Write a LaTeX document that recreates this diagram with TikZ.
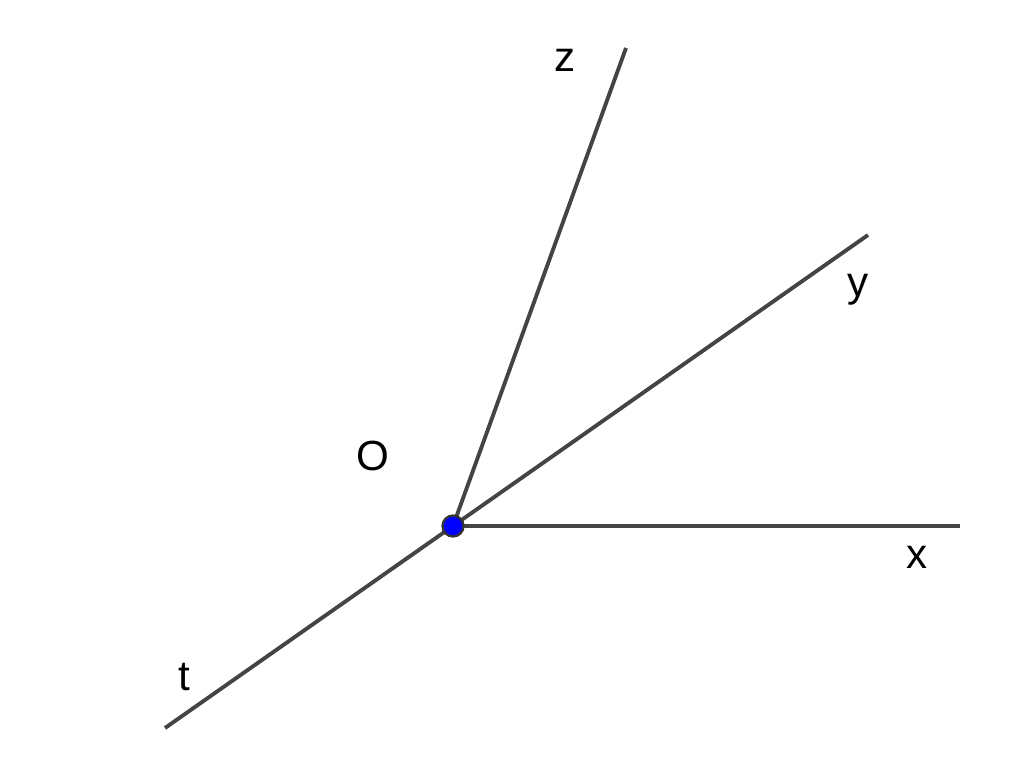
\documentclass[tikz,border=0pt]{standalone}
\usepackage{fontspec}
\setmainfont{Liberation Sans}
\definecolor{raygray}{HTML}{444444}

\begin{document}
\begin{tikzpicture}[x=0.02cm,y=-0.02cm,
    ray/.style={raygray,line width=2.2pt},
    lbl/.style={inner sep=0pt,font=\fontsize{24}{24}\selectfont}]
    \useasboundingbox (0,0) rectangle (1024,779);
    \coordinate (O) at (453,526);
    \coordinate (X) at (960,526);
    \coordinate (Y) at (868,235);
    \coordinate (Z) at (626,48);
    \coordinate (T) at (165,728);
    \foreach \e in {X,Y,Z,T}
        \draw[ray] (O) -- (\e);
    \fill[blue,draw=black!80,line width=1.3pt] (O) circle (10.5);
    \node[lbl] (lz) at (565,60) {z};
    \node[lbl] (ly) at (858,290) {y};
    \node[lbl] (lx) at (917,557) {x};
    \node[lbl] (lt) at (184,677) {t};
    \node[lbl] (lo) at (373,456) {O};
\end{tikzpicture}
\end{document}
